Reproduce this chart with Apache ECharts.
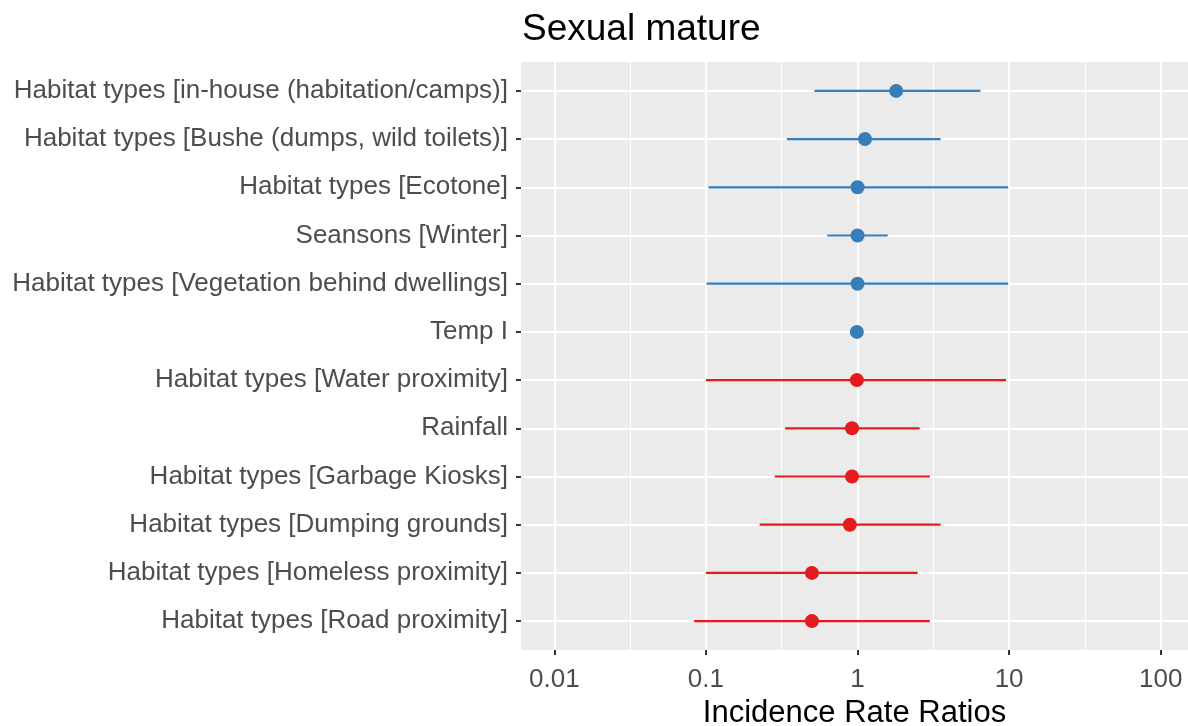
<!DOCTYPE html>
<html><head><meta charset="utf-8">
<script src="https://cdn.jsdelivr.net/npm/echarts@6/dist/echarts.min.js"></script>
<style>html,body{margin:0;padding:0;background:#fff}#c{width:1188px;height:726px}</style>
</head><body><div id="c"></div>
<script>
const categories = [
  'Habitat types [in-house (habitation/camps)]',
  'Habitat types [Bushe (dumps, wild toilets)]',
  'Habitat types [Ecotone]',
  'Seansons [Winter]',
  'Habitat types [Vegetation behind dwellings]',
  'Temp I',
  'Habitat types [Water proximity]',
  'Rainfall',
  'Habitat types [Garbage Kiosks]',
  'Habitat types [Dumping grounds]',
  'Habitat types [Homeless proximity]',
  'Habitat types [Road proximity]'
];
const estimates = [1.80, 1.12, 1.00, 1.00, 1.00, 0.99, 0.99, 0.92, 0.92, 0.89, 0.50, 0.50];
const ciLow     = [0.52, 0.342, 0.104, 0.632, 0.101, 0.97, 0.100, 0.333, 0.284, 0.226, 0.100, 0.0836];
const ciHigh    = [6.47, 3.53, 9.86, 1.58, 9.86, 1.01, 9.55, 2.57, 3.00, 3.53, 2.49, 3.00];
const groups    = ['pos','pos','pos','pos','pos','pos','neg','neg','neg','neg','neg','neg'];
const tickValues = [0.01, 0.1, 1, 10, 100];
const tickLabels = ['0.01', '0.1', '1', '10', '100'];

const colors = { pos: '#377EB8', neg: '#E41A1C' };
const FONT = 'Liberation Sans, Arial, sans-serif';
const lg = Math.log10;
const rowIdx = categories.map((c, i) => i + 1);

function pointsFor(g) {
  const out = [];
  estimates.forEach((e, i) => { if (groups[i] === g) out.push([lg(e), i + 1]); });
  return out;
}
const barData = estimates.map((e, i) => [lg(ciLow[i]), lg(ciHigh[i]), i + 1, groups[i] === 'pos' ? 0 : 1]);
const logTicks = tickValues.map(lg);

const chart = echarts.init(document.getElementById('c'), null, { renderer: 'canvas' });
chart.setOption({
  animation: false,
  backgroundColor: '#ffffff',
  title: {
    text: 'Sexual mature', left: 522, top: 11, padding: 0,
    textStyle: { fontSize: 37, fontWeight: 'normal', color: '#000', fontFamily: FONT }
  },
  grid: {
    left: 521, right: 0, top: 62, bottom: 76,
    show: true, backgroundColor: '#EBEBEB', borderWidth: 0,
    containLabel: false, outerBoundsMode: 'none'
  },
  xAxis: {
    type: 'value', min: -2.22, max: 2.18,
    axisLine: { show: false, onZero: false },
    axisTick: { show: true, length: 5, lineStyle: { color: '#333333', width: 2 }, customValues: logTicks },
    axisLabel: {
      customValues: logTicks, margin: 17, fontSize: 26, color: '#4D4D4D', fontFamily: FONT,
      formatter: v => { const k = logTicks.findIndex(t => Math.abs(t - v) < 1e-6); return k >= 0 ? tickLabels[k] : ''; }
    },
    splitLine: { show: true, lineStyle: { color: '#ffffff', width: 2 } },
    minorTick: { show: false, splitNumber: 2 },
    minorSplitLine: { show: true, lineStyle: { color: '#ffffff', width: 1 } },
    name: 'Incidence Rate Ratios', nameLocation: 'middle', nameGap: 46,
    nameTextStyle: { fontSize: 31, color: '#000', fontFamily: FONT }
  },
  yAxis: {
    type: 'value', inverse: true, min: 0.4, max: 12.6,
    axisLine: { show: false, onZero: false },
    axisTick: { show: true, length: 5, lineStyle: { color: '#333333', width: 2 }, customValues: rowIdx },
    axisLabel: {
      customValues: rowIdx, margin: 13, fontSize: 26, color: '#4D4D4D', fontFamily: FONT,
      formatter: v => categories[Math.round(v) - 1] || ''
    },
    splitLine: { show: true, lineStyle: { color: '#ffffff', width: 2 } }
  },
  series: [
    {
      type: 'custom', data: barData, clip: true, z: 2,
      encode: { x: [0, 1], y: 2 },
      renderItem: (params, api) => {
        const a = api.coord([api.value(0), api.value(2)]);
        const b = api.coord([api.value(1), api.value(2)]);
        const col = api.value(3) === 0 ? colors.pos : colors.neg;
        return { type: 'line', shape: { x1: a[0], y1: a[1], x2: b[0], y2: b[1] },
                 style: { stroke: col, lineWidth: 2.2 } };
      }
    },
    { type: 'scatter', data: pointsFor('pos'), symbol: 'circle', symbolSize: 14, z: 3,
      itemStyle: { color: colors.pos, opacity: 1 } },
    { type: 'scatter', data: pointsFor('neg'), symbol: 'circle', symbolSize: 14, z: 3,
      itemStyle: { color: colors.neg, opacity: 1 } }
  ]
});
</script>
</body></html>
